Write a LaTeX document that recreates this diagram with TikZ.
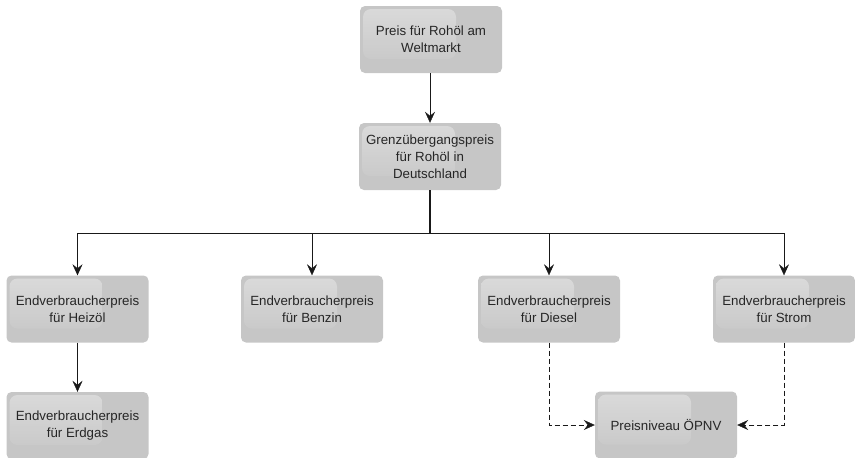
\documentclass[tikz,border=0pt]{standalone}
\usepackage{fontspec}
\setmainfont{Liberation Sans}
\usetikzlibrary{arrows.meta}
\definecolor{boxgray}{RGB}{198,198,198}
\definecolor{textgray}{RGB}{38,38,38}
\definecolor{linegray}{RGB}{25,25,25}
\tikzset{
  preisbox/.style={fill=boxgray, rounded corners=5pt, minimum width=142pt,
    minimum height=67pt, inner sep=2pt, align=center, text=textgray,
    font=\fontsize{13.3}{17}\selectfont,
    path picture={\shade[top color=white!80!boxgray, bottom color=boxgray, opacity=0.45,
      rounded corners=8pt]
      ([xshift=3pt,yshift=-3pt]path picture bounding box.north west)
      rectangle ++(93pt,-50pt);}},
  pfeil/.style={draw=linegray, -{Stealth[length=11pt,width=10pt,inset=4pt]}},
  strich/.style={pfeil, dash pattern=on 5pt off 3pt}
}
\begin{document}
\begin{tikzpicture}[x=1pt,y=1pt]

\newcommand\RowY{-309};
\newcommand\BusY{-233};

  \useasboundingbox (0,0) rectangle (855,-458);

  %% boxes
  \node[preisbox] (welt) at (431,-39.5) {Preis für Rohöl am\\Weltmarkt};
  \node[preisbox] (grenz) at (430,-156.5) {Grenzübergangspreis\\für Rohöl in\\Deutschland};
  \node[preisbox] (heizoel) at (77.5,\RowY) {Endverbraucherpreis\\für Heizöl};
  \node[preisbox] (benzin) at (312,\RowY) {Endverbraucherpreis\\für Benzin};
  \node[preisbox] (diesel) at (549,\RowY) {Endverbraucherpreis\\für Diesel};
  \node[preisbox] (strom) at (784,\RowY) {Endverbraucherpreis\\für Strom};
  \node[preisbox] (erdgas) at (77.5,-425.5) {Endverbraucherpreis\\für Erdgas};
  \node[preisbox] (oepnv) at (666,-425) {Preisniveau ÖPNV};

  %% bus
  \coordinate (bus) at (430,\BusY);
  \draw[linegray, line width=1.6pt] (grenz.south) -- (bus);
  \draw[linegray] (heizoel.north |- bus) -- (strom.north |- bus);

  %% arrows
  \draw[pfeil] (welt.south -| grenz.north) -- (grenz.north);
  \draw[pfeil] (heizoel.north |- bus) -- (heizoel.north);
  \draw[pfeil] (benzin.north |- bus) -- (benzin.north);
  \draw[pfeil] (diesel.north |- bus) -- (diesel.north);
  \draw[pfeil] (strom.north |- bus) -- (strom.north);
  \draw[pfeil] (heizoel.south) -- (erdgas.north);

  %% dashed
  \draw[strich] (diesel.south) |- (oepnv.west);
  \draw[strich] (strom.south) |- (oepnv.east);

\end{tikzpicture}
\end{document}
